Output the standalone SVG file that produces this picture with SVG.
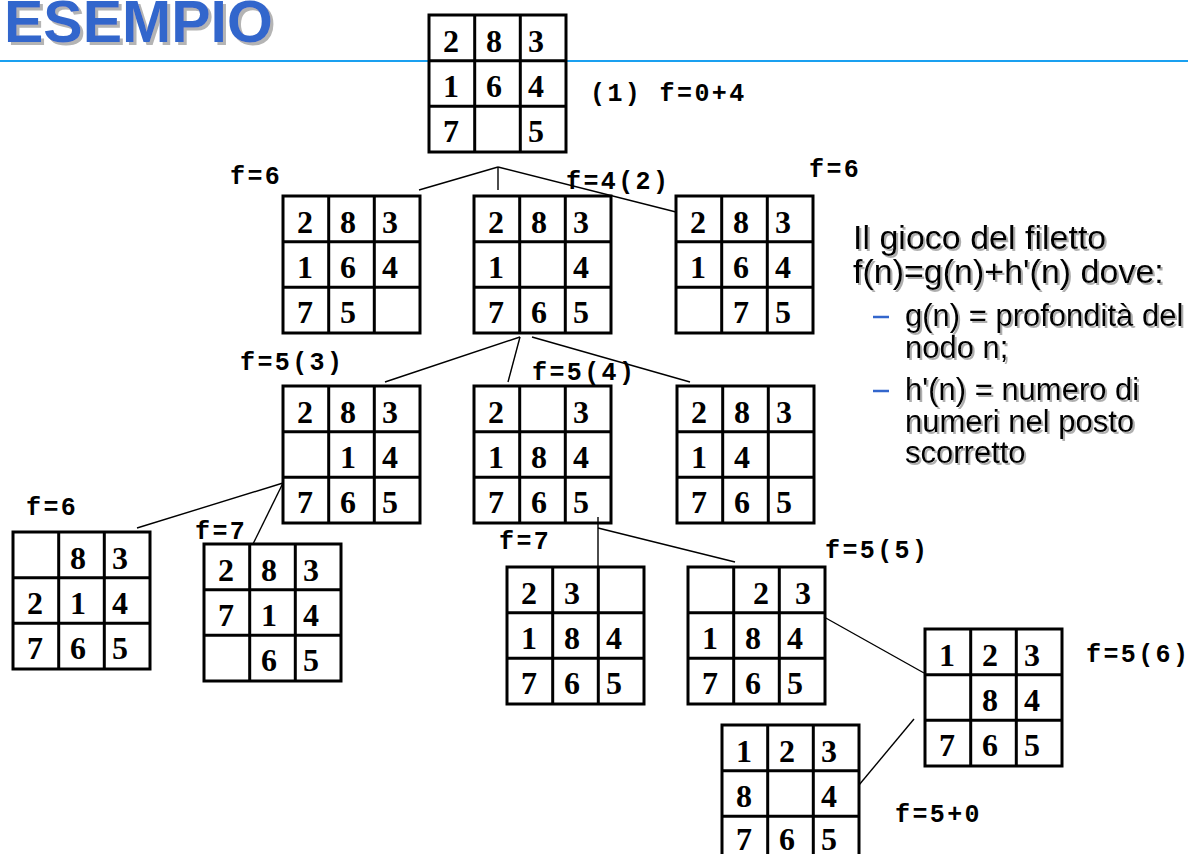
<svg xmlns="http://www.w3.org/2000/svg" xmlns:xlink="http://www.w3.org/1999/xlink" width="1188" height="854" viewBox="0 0 1188 854">
<style>
.d{font-family:"Liberation Serif","Times New Roman",serif;font-weight:bold;font-size:32px;fill:#000}
.lbl{font-family:"Liberation Mono","Courier New",monospace;font-weight:bold;font-size:25px;letter-spacing:2.4px;fill:#000}
.conn line{stroke:#000;stroke-width:1.4}
.t1{font-family:"Liberation Sans",Arial,sans-serif;font-size:34px;fill:#000}
.t2{font-family:"Liberation Sans",Arial,sans-serif;font-size:31px;fill:#000}
.dash{stroke:#3366CC;stroke-width:2.5}
</style>
<defs>
<filter id="sh" x="-5%" y="-20%" width="110%" height="140%">
<feDropShadow dx="2" dy="2" stdDeviation="0.6" flood-color="#9a9a9a" flood-opacity="0.8"/>
</filter>
<filter id="tsh" x="-5%" y="-20%" width="110%" height="140%">
<feDropShadow dx="3" dy="3" stdDeviation="0.3" flood-color="#b4b4b4" flood-opacity="1"/>
</filter>
<g id="grid">
<rect x="0" y="0" width="137" height="137" fill="#fff" stroke="#000" stroke-width="3"/>
<path d="M45.7 0V137M91.3 0V137M0 45.7H137M0 91.3H137" stroke="#000" stroke-width="3" fill="none"/>
</g>
</defs>
<rect width="1188" height="854" fill="#fff"/>
<g id="title">
<text x="4" y="42" font-family="'Liberation Sans',Arial,sans-serif" font-weight="bold" font-size="59" fill="#3366CC" filter="url(#tsh)">ESEMPIO</text>
<line x1="0" y1="61" x2="1188" y2="61" stroke="#1aa0f0" stroke-width="2"/>
</g>
<g id="board-T" transform="translate(429,15)"><use xlink:href="#grid"/>
<text class="d" x="14" y="37">2</text><text class="d" x="57" y="37">8</text><text class="d" x="99" y="37">3</text>
<text class="d" x="14" y="82">1</text><text class="d" x="57" y="82">6</text><text class="d" x="99" y="82">4</text>
<text class="d" x="14" y="127">7</text><text class="d" x="99" y="127">5</text></g>
<g id="board-A" transform="translate(283,196)"><use xlink:href="#grid"/>
<text class="d" x="14" y="37">2</text><text class="d" x="57" y="37">8</text><text class="d" x="99" y="37">3</text>
<text class="d" x="14" y="82">1</text><text class="d" x="57" y="82">6</text><text class="d" x="99" y="82">4</text>
<text class="d" x="14" y="127">7</text><text class="d" x="57" y="127">5</text></g>
<g id="board-B" transform="translate(474,196)"><use xlink:href="#grid"/>
<text class="d" x="14" y="37">2</text><text class="d" x="57" y="37">8</text><text class="d" x="99" y="37">3</text>
<text class="d" x="14" y="82">1</text><text class="d" x="99" y="82">4</text>
<text class="d" x="14" y="127">7</text><text class="d" x="57" y="127">6</text><text class="d" x="99" y="127">5</text></g>
<g id="board-C" transform="translate(676,196)"><use xlink:href="#grid"/>
<text class="d" x="14" y="37">2</text><text class="d" x="57" y="37">8</text><text class="d" x="99" y="37">3</text>
<text class="d" x="14" y="82">1</text><text class="d" x="57" y="82">6</text><text class="d" x="99" y="82">4</text>
<text class="d" x="57" y="127">7</text><text class="d" x="99" y="127">5</text></g>
<g id="board-D" transform="translate(283,386)"><use xlink:href="#grid"/>
<text class="d" x="14" y="37">2</text><text class="d" x="57" y="37">8</text><text class="d" x="99" y="37">3</text>
<text class="d" x="57" y="82">1</text><text class="d" x="99" y="82">4</text>
<text class="d" x="14" y="127">7</text><text class="d" x="57" y="127">6</text><text class="d" x="99" y="127">5</text></g>
<g id="board-E" transform="translate(474,386)"><use xlink:href="#grid"/>
<text class="d" x="14" y="37">2</text><text class="d" x="99" y="37">3</text>
<text class="d" x="14" y="82">1</text><text class="d" x="57" y="82">8</text><text class="d" x="99" y="82">4</text>
<text class="d" x="14" y="127">7</text><text class="d" x="57" y="127">6</text><text class="d" x="99" y="127">5</text></g>
<g id="board-F" transform="translate(677,386)"><use xlink:href="#grid"/>
<text class="d" x="14" y="37">2</text><text class="d" x="57" y="37">8</text><text class="d" x="99" y="37">3</text>
<text class="d" x="14" y="82">1</text><text class="d" x="57" y="82">4</text>
<text class="d" x="14" y="127">7</text><text class="d" x="57" y="127">6</text><text class="d" x="99" y="127">5</text></g>
<g id="board-G" transform="translate(13,532)"><use xlink:href="#grid"/>
<text class="d" x="57" y="37">8</text><text class="d" x="99" y="37">3</text>
<text class="d" x="14" y="82">2</text><text class="d" x="57" y="82">1</text><text class="d" x="99" y="82">4</text>
<text class="d" x="14" y="127">7</text><text class="d" x="57" y="127">6</text><text class="d" x="99" y="127">5</text></g>
<g id="board-H" transform="translate(204,544)"><use xlink:href="#grid"/>
<text class="d" x="14" y="37">2</text><text class="d" x="57" y="37">8</text><text class="d" x="99" y="37">3</text>
<text class="d" x="14" y="82">7</text><text class="d" x="57" y="82">1</text><text class="d" x="99" y="82">4</text>
<text class="d" x="57" y="127">6</text><text class="d" x="99" y="127">5</text></g>
<g id="board-I" transform="translate(507,567)"><use xlink:href="#grid"/>
<text class="d" x="14" y="37">2</text><text class="d" x="57" y="37">3</text>
<text class="d" x="14" y="82">1</text><text class="d" x="57" y="82">8</text><text class="d" x="99" y="82">4</text>
<text class="d" x="14" y="127">7</text><text class="d" x="57" y="127">6</text><text class="d" x="99" y="127">5</text></g>
<g id="board-J" transform="translate(688,567)"><use xlink:href="#grid"/>
<text class="d" x="65" y="37">2</text><text class="d" x="107" y="37">3</text>
<text class="d" x="14" y="82">1</text><text class="d" x="57" y="82">8</text><text class="d" x="99" y="82">4</text>
<text class="d" x="14" y="127">7</text><text class="d" x="57" y="127">6</text><text class="d" x="99" y="127">5</text></g>
<g id="board-K" transform="translate(925,629)"><use xlink:href="#grid"/>
<text class="d" x="14" y="37">1</text><text class="d" x="57" y="37">2</text><text class="d" x="99" y="37">3</text>
<text class="d" x="57" y="82">8</text><text class="d" x="99" y="82">4</text>
<text class="d" x="14" y="127">7</text><text class="d" x="57" y="127">6</text><text class="d" x="99" y="127">5</text></g>
<g id="board-L" transform="translate(722,725)"><use xlink:href="#grid"/>
<text class="d" x="14" y="37">1</text><text class="d" x="57" y="37">2</text><text class="d" x="99" y="37">3</text>
<text class="d" x="14" y="82">8</text><text class="d" x="99" y="82">4</text>
<text class="d" x="14" y="125">7</text><text class="d" x="57" y="125">6</text><text class="d" x="99" y="125">5</text></g>
<g id="connectors" class="conn">
<line x1="498" y1="167" x2="419" y2="190"/>
<line x1="498" y1="167" x2="498" y2="190"/>
<line x1="498" y1="167" x2="676" y2="212"/>
<line x1="520" y1="337" x2="385" y2="382"/>
<line x1="520" y1="337" x2="508" y2="382"/>
<line x1="532" y1="337" x2="690" y2="382"/>
<line x1="283" y1="483" x2="137" y2="528"/>
<line x1="283" y1="483" x2="253" y2="544"/>
<line x1="598" y1="517" x2="598" y2="567"/>
<line x1="598" y1="528" x2="735" y2="562"/>
<line x1="824" y1="617" x2="924" y2="673"/>
<line x1="859" y1="785" x2="914" y2="719"/>
</g>
<g id="labels">
<text class="lbl" x="590" y="101">(1) f=0+4</text>
<text class="lbl" x="230" y="184">f=6</text>
<text class="lbl" x="566" y="189">f=4(2)</text>
<text class="lbl" x="809" y="177">f=6</text>
<text class="lbl" x="240" y="370">f=5(3)</text>
<text class="lbl" x="532" y="380">f=5(4)</text>
<text class="lbl" x="26" y="515">f=6</text>
<text class="lbl" x="195" y="539">f=7</text>
<text class="lbl" x="499" y="549">f=7</text>
<text class="lbl" x="825" y="558">f=5(5)</text>
<text class="lbl" x="1086" y="662">f=5(6)</text>
<text class="lbl" x="895" y="822">f=5+0</text>
</g>
<g id="description">
<g filter="url(#sh)">
<text class="t1" x="853" y="249">Il gioco del filetto</text>
<text class="t1" x="853" y="283">f(n)=g(n)+h'(n) dove:</text>
<text class="t2" x="905" y="326">g(n) = profondità del</text>
<text class="t2" x="905" y="358">nodo n;</text>
<text class="t2" x="905" y="400">h'(n) = numero di</text>
<text class="t2" x="905" y="432">numeri nel posto</text>
<text class="t2" x="905" y="463">scorretto</text>
</g>
<line class="dash" x1="873" y1="317" x2="889" y2="317"/>
<line class="dash" x1="873" y1="391" x2="889" y2="391"/>
</g>
</svg>
